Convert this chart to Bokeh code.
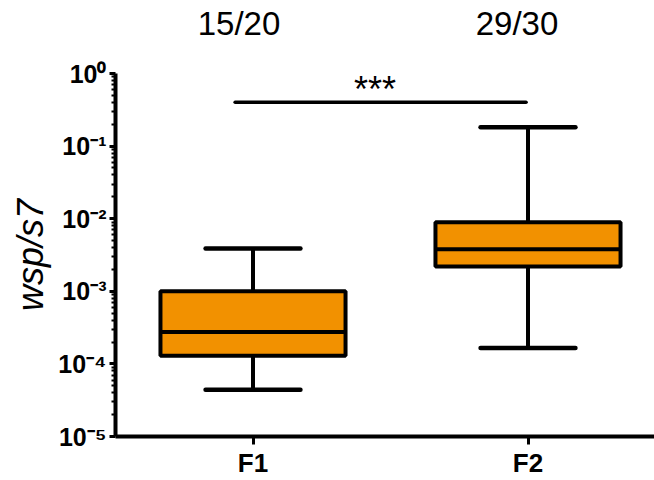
from bokeh.plotting import figure
from bokeh.layouts import column
from bokeh.models import Range1d, FixedTicker, CustomJSTickFormatter
from bokeh.core.properties import value
from bokeh.embed import file_html
from bokeh.resources import INLINE

categories = ["F1", "F2"]
xs = [1, 2]
lower = [4.4e-5, 1.66e-4]
q1 = [1.29e-4, 2.2e-3]
median = [2.75e-4, 3.8e-3]
q3 = [1.0e-3, 8.9e-3]
upper = [3.9e-3, 0.182]
fractions = ["15/20", "29/30"]
significance = "***"

ORANGE = "#F29100"
FONT = "Liberation Sans"

x_range = Range1d(0.5, 2.46)

# header strip with the fractions
top = figure(width=654, height=55, output_backend="svg", toolbar_location=None,
             x_range=x_range, y_range=Range1d(0, 1),
             x_axis_location=None, y_axis_location=None,
             min_border_left=115, min_border_right=0, min_border_top=0, min_border_bottom=0)
top.outline_line_color = None
top.xgrid.visible = False
top.ygrid.visible = False
top.text(x=[0.949, 1.96], y=[0.58, 0.58], text=fractions, text_align="center", text_baseline="middle",
         text_font=value(FONT), text_font_size="33px", text_color="black")

p = figure(width=654, height=425, y_axis_type="log", output_backend="svg",
           toolbar_location=None, x_range=x_range, y_range=Range1d(1e-5, 1),
           min_border_left=115, min_border_top=18, min_border_bottom=42, min_border_right=0)
p.outline_line_color = None
p.xgrid.visible = False
p.ygrid.visible = False

bw = 0.673
cw = 0.345
# whiskers
p.segment(x0=xs, x1=xs, y0=q3, y1=upper, line_color="black", line_width=4)
p.segment(x0=xs, x1=xs, y0=lower, y1=q1, line_color="black", line_width=4)
p.segment(x0=[x - cw / 2 for x in xs], x1=[x + cw / 2 for x in xs], y0=upper, y1=upper,
          line_color="black", line_width=4.5, line_cap="round")
p.segment(x0=[x - cw / 2 for x in xs], x1=[x + cw / 2 for x in xs], y0=lower, y1=lower,
          line_color="black", line_width=4.5, line_cap="round")
# boxes
p.vbar(x=xs, width=bw, bottom=q1, top=q3, fill_color=ORANGE, line_color="black", line_width=4)
p.segment(x0=[x - bw / 2 for x in xs], x1=[x + bw / 2 for x in xs], y0=median, y1=median,
          line_color="black", line_width=4)

# significance bar
p.segment(x0=[0.935], x1=[1.993], y0=[10 ** -0.397], y1=[10 ** -0.397], line_color="black",
          line_width=3.5, line_cap="round")
p.text(x=[1.444], y=[10 ** -0.215], text=[significance], text_align="center", text_baseline="middle",
       text_font=value(FONT), text_font_size="36px", text_color="black")

# y axis
yaxis = p.yaxis[0]
major = [10.0 ** k for k in range(-5, 1)]
minor = [m * 10.0 ** k for k in range(-5, 0) for m in range(2, 10)]
yaxis.ticker = FixedTicker(ticks=major, minor_ticks=minor)
yaxis.formatter = CustomJSTickFormatter(code="""
const sup = {'-':'\u207b','0':'\u2070','1':'\u00b9','2':'\u00b2','3':'\u00b3','4':'\u2074','5':'\u2075','6':'\u2076','7':'\u2077','8':'\u2078','9':'\u2079'};
const e = Math.round(Math.log10(tick));
return '10' + String(e).split('').map(c => sup[c]).join('');
""")
yaxis.axis_line_width = 4
yaxis.axis_line_color = "black"
yaxis.major_tick_line_width = 3
yaxis.minor_tick_line_width = 2
yaxis.major_tick_line_color = "black"
yaxis.minor_tick_line_color = "black"
yaxis.major_tick_out = 6
yaxis.major_tick_in = 0
yaxis.minor_tick_out = 4
yaxis.minor_tick_in = 0
yaxis.major_label_text_font = FONT
yaxis.major_label_text_font_style = "bold"
yaxis.major_label_text_font_size = "25px"
yaxis.major_label_text_color = "black"
yaxis.major_label_standoff = 3
yaxis.axis_label = "wsp/s7"
yaxis.axis_label_text_font = FONT
yaxis.axis_label_text_font_style = "italic"
yaxis.axis_label_text_font_size = "36px"
yaxis.axis_label_text_color = "black"
yaxis.axis_label_standoff = 4

# x axis
xaxis = p.xaxis[0]
xaxis.ticker = FixedTicker(ticks=xs, minor_ticks=[])
xaxis.major_label_overrides = {x: c for x, c in zip(xs, categories)}
xaxis.axis_line_width = 4
xaxis.axis_line_color = "black"
xaxis.major_tick_line_width = 3
xaxis.major_tick_line_color = "black"
xaxis.major_tick_out = 8
xaxis.major_tick_in = 0
xaxis.minor_tick_line_color = None
xaxis.major_label_text_font = FONT
xaxis.major_label_text_font_style = "bold"
xaxis.major_label_text_font_size = "26px"
xaxis.major_label_text_color = "black"
xaxis.major_label_standoff = 3

layout = column(top, p, spacing=0)
open("out.html", "w").write(file_html(layout, INLINE))
